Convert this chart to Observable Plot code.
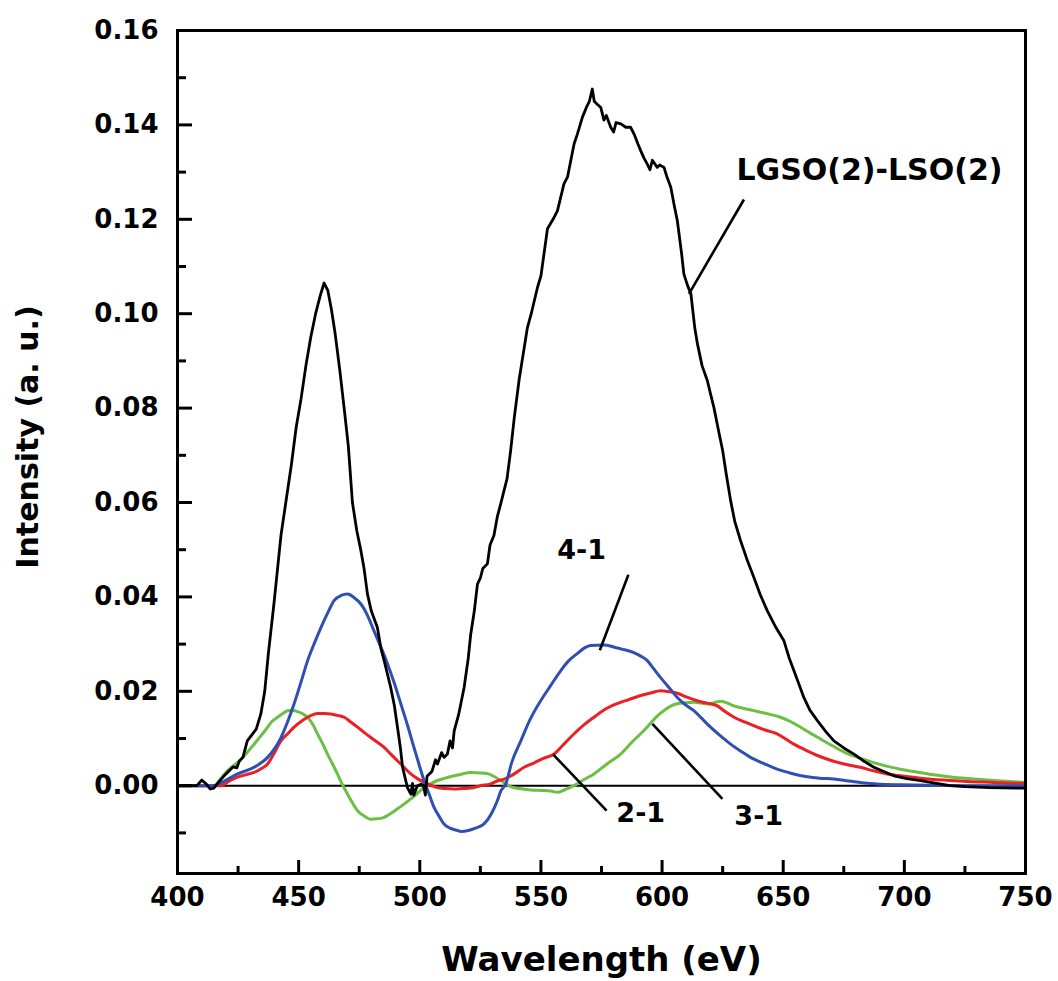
<!DOCTYPE html>
<html>
<head>
<meta charset="utf-8">
<script src="https://cdn.jsdelivr.net/npm/d3@7"></script>
<script src="https://cdn.jsdelivr.net/npm/@observablehq/plot@0.6"></script>
<style>
  html, body { margin: 0; padding: 0; background: #fff; }
  #chart svg { display: block; font-family: "DejaVu Sans", sans-serif; }
</style>
</head>
<body>
<div id="chart"></div>
<script>
// ---- Data (wavelength, intensity) ----
const black = [[400,0],[408,0],[410,0.0012],[412,0.0003],[413.5,-0.0007],[415,-0.0005],[417,0.0008],[420,0.0025],[423,0.004],[424.5,0.0038],[425.5,0.0052],[427,0.006],[428.8,0.0095],[431,0.011],[432.5,0.012],[434.4,0.0152],[436,0.02],[437.5,0.028],[439.9,0.039],[442.7,0.053],[444.7,0.06],[447,0.068],[449,0.076],[451,0.082],[453,0.089],[455,0.095],[457,0.1],[459,0.104],[460.5,0.1065],[462,0.105],[463.5,0.101],[465,0.096],[467,0.088],[469,0.079],[470.5,0.072],[472.2,0.06],[474,0.054],[475.7,0.0498],[477,0.046],[478.4,0.0406],[480,0.037],[482.5,0.0335],[484,0.029],[485.3,0.0265],[488,0.0208],[489.5,0.017],[490.8,0.0124],[492,0.008],[492.9,0.0039],[494.9,-0.0004],[496.3,-0.0018],[497,0.0005],[497.5,-0.002],[499,0],[500.5,0.0003],[501.5,0.0001],[502.3,-0.002],[503,0.002],[505,0.003],[506.5,0.0055],[507.3,0.0046],[509,0.007],[510,0.006],[511.4,0.0067],[512.5,0.0095],[513.5,0.008],[514.2,0.0116],[516,0.015],[518.3,0.0208],[520,0.027],[521,0.032],[522.5,0.037],[523.8,0.0427],[525,0.044],[526,0.046],[527.9,0.047],[529,0.051],[530.6,0.053],[532,0.057],[533.4,0.0597],[535,0.063],[536,0.065],[537.5,0.071],[539,0.078],[541,0.086],[544.4,0.097],[546,0.1],[548.6,0.1056],[550,0.108],[552.7,0.118],[555,0.12],[556.8,0.1218],[559.5,0.1275],[561,0.129],[563.7,0.136],[565,0.138],[567.1,0.1416],[569,0.144],[570,0.145],[571.2,0.1476],[572,0.145],[573,0.1445],[574.7,0.1437],[576,0.141],[577,0.142],[578.8,0.1395],[580,0.1385],[581,0.1405],[583,0.1402],[585,0.1395],[587,0.1395],[588.5,0.138],[590,0.136],[591.2,0.1345],[592.5,0.133],[593.9,0.1317],[595,0.1305],[596,0.1325],[598,0.131],[599,0.1315],[600.8,0.131],[602,0.129],[603.6,0.1268],[605,0.123],[606.3,0.1197],[608,0.113],[609,0.1084],[610.5,0.106],[611.9,0.1042],[613.5,0.097],[614.6,0.0936],[616.5,0.089],[618.7,0.0858],[620,0.083],[621.4,0.0801],[623,0.076],[625,0.071],[626.5,0.066],[628.3,0.0604],[630,0.056],[632.4,0.0519],[635,0.048],[637.9,0.0441],[640.5,0.0405],[643.4,0.0371],[647,0.0335],[650.3,0.0307],[652.5,0.027],[654.4,0.0244],[656.5,0.0215],[658.5,0.0187],[661,0.016],[664.1,0.0138],[667.5,0.0115],[670.9,0.0095],[675,0.008],[679.2,0.0067],[683,0.0053],[687.4,0.0039],[691.5,0.003],[695.7,0.0021],[701,0.0015],[706.7,0.0011],[712,0.0006],[719,0],[725,-0.0002],[735,-0.0004],[746.6,-0.0005],[750,-0.0005]];

const blue = [[400,0],[412,0],[415,0],[419.3,0.001],[424.8,0.0025],[431.6,0.0039],[437.2,0.006],[440,0.0078],[442.7,0.0102],[445.5,0.0136],[448.1,0.0173],[451,0.022],[453.7,0.0265],[456.5,0.0302],[459.2,0.0335],[462,0.0366],[464.6,0.0392],[467.5,0.0403],[470.2,0.0406],[473,0.0398],[475.7,0.0385],[478.5,0.036],[481.1,0.0328],[484,0.0293],[486.7,0.0258],[489.5,0.0217],[492.2,0.0173],[495,0.0127],[497.6,0.0081],[499.7,0.0045],[501.8,0.001],[504,-0.002],[505.9,-0.0046],[508,-0.0065],[510,-0.0081],[512.5,-0.009],[515.6,-0.0095],[517,-0.0097],[520,-0.0095],[523,-0.009],[526.5,-0.0081],[529.5,-0.006],[532,-0.0032],[533.4,-0.0012],[535.5,0.0004],[538,0.005],[541.7,0.0095],[545.5,0.014],[549.9,0.018],[554,0.0212],[558.2,0.0244],[561.5,0.0265],[565,0.028],[568,0.0292],[570.6,0.0297],[576,0.0298],[580,0.0294],[583,0.029],[588.4,0.0282],[591,0.0275],[593.9,0.0265],[596.5,0.0248],[599.4,0.0229],[603,0.0207],[606.3,0.0187],[609.5,0.0172],[613.1,0.0159],[616.5,0.0142],[620,0.0124],[624,0.0106],[628.3,0.0088],[632.5,0.0073],[636.5,0.006],[642,0.0047],[647.5,0.0035],[653.5,0.0026],[659.9,0.0019],[665,0.0016],[670.9,0.0014],[677,0.001],[684.7,0.0005],[690,0.0003],[698.4,0.0002],[710,0.0001],[730,0],[750,0]];

const red = [[400,0],[415,0],[417.9,0],[421,0.0009],[424.8,0.0018],[428,0.0023],[431.6,0.0028],[434.5,0.0036],[437.2,0.0046],[440,0.007],[442.7,0.0095],[445.5,0.011],[448.1,0.0124],[451,0.0136],[453.7,0.0145],[457.8,0.0153],[460.5,0.0153],[463.3,0.0152],[466,0.0149],[468.8,0.0145],[471.5,0.0135],[474.3,0.0124],[477,0.0113],[479.8,0.0102],[482.5,0.0092],[485.3,0.0081],[488,0.0067],[490.8,0.0053],[493.5,0.0039],[496.3,0.0025],[499,0.0015],[501.8,0.0007],[504.5,0.0001],[507.3,-0.0004],[510.5,-0.0006],[514.2,-0.0007],[517.5,-0.0006],[521,-0.0005],[525,0],[529.3,0.0004],[532,0.001],[534.8,0.0014],[539,0.0025],[543,0.0039],[547,0.0048],[551,0.0058],[555.4,0.0067],[559.5,0.0088],[563.7,0.011],[567.5,0.0128],[571.9,0.0145],[576.5,0.0162],[581.5,0.0174],[586,0.0182],[591.2,0.0191],[595,0.0196],[599.4,0.0201],[603,0.0199],[606.3,0.0196],[610,0.0188],[614.5,0.018],[618.5,0.0175],[622.8,0.0169],[626,0.0157],[629.7,0.0145],[634,0.0135],[637.9,0.0127],[642.5,0.0118],[647.5,0.011],[651,0.0099],[654.4,0.0088],[659,0.0076],[664.1,0.0064],[669.5,0.0054],[675.1,0.0046],[681.9,0.0039],[687,0.0032],[692.9,0.0025],[700,0.002],[706.7,0.0016],[716,0.0012],[726,0.0009],[737,0.0007],[746.6,0.0005],[750,0.0005]];

const green = [[400,0],[413,0],[415.1,0],[418,0.0016],[420.7,0.0032],[423.5,0.0044],[426.2,0.0056],[429,0.0072],[431.6,0.0088],[434.5,0.0106],[437.2,0.0124],[439,0.0136],[441.3,0.0145],[443.5,0.0153],[445.4,0.0159],[447.5,0.016],[449.5,0.0157],[451.5,0.0153],[453.7,0.0145],[455.8,0.013],[457.8,0.011],[460,0.0088],[461.9,0.0067],[464,0.0046],[466,0.0025],[468,0.0003],[470.2,-0.0018],[472.3,-0.0037],[474.3,-0.0053],[477,-0.0064],[479.8,-0.0071],[482.5,-0.007],[485.3,-0.0067],[488,-0.0059],[490.8,-0.0049],[493.5,-0.0039],[496.3,-0.0028],[499,-0.0016],[501.8,-0.0004],[504.5,0.0004],[507.3,0.0011],[510.5,0.0016],[514.2,0.0021],[517.5,0.0025],[521,0.0028],[524.5,0.0027],[527.9,0.0026],[530.5,0.002],[533.4,0.0011],[535.5,0.0004],[537.5,-0.0002],[541,-0.0006],[545.8,-0.0009],[550,-0.001],[554,-0.0011],[556.8,-0.0014],[560,-0.0008],[563.6,0],[567.5,0.0012],[571.9,0.0025],[577,0.0045],[582.9,0.0067],[587.5,0.0092],[592.5,0.0117],[595.5,0.0134],[598.1,0.0148],[601.5,0.0162],[605,0.0172],[609,0.0176],[613.2,0.0177],[618.7,0.0173],[621.5,0.0176],[624.2,0.0179],[627,0.0175],[629.7,0.0169],[633.5,0.0164],[637.9,0.0159],[643,0.0153],[648.9,0.0145],[653,0.0136],[657.2,0.0124],[661,0.0112],[665.4,0.0099],[670.5,0.0084],[676.4,0.0068],[682,0.0058],[687.4,0.0049],[693,0.0041],[698.4,0.0035],[705,0.0029],[712.2,0.0023],[720,0.0018],[728.7,0.0014],[737,0.0011],[746.6,0.0008],[750,0.0007]];

// ---- Annotations ----
const labelText = ["LGSO(2)-LSO(2)", "4-1", "2-1", "3-1"];
const labelX    = [685.6, 566.8, 591.2, 639.9];
const labelY    = [0.1303, 0.0498, -0.0059, -0.0064];
const labelSize = [30, 27, 27, 27];
const leaderX1  = [633.8, 586.1, 555.1, 596.0];
const leaderY1  = [0.1242, 0.0447, 0.0066, 0.0131];
const leaderX2  = [611.1, 574.3, 577.1, 624.9];
const leaderY2  = [0.1042, 0.0287, -0.0053, -0.0028];

// ---- Ticks ----
const xMajor = [400, 450, 500, 550, 600, 650, 700, 750];
const xMinor = [425, 475, 525, 575, 625, 675, 725];
const yMajor = [0, 0.02, 0.04, 0.06, 0.08, 0.10, 0.12, 0.14, 0.16];
const yMinor = [-0.01, 0.01, 0.03, 0.05, 0.07, 0.09, 0.11, 0.13, 0.15];

const toRows = a => a.map(([x, y]) => ({x, y}));
const labels = labelText.map((t, i) => ({t, x: labelX[i], y: labelY[i], s: labelSize[i]}));
const leaders = labelText.map((t, i) => ({x1: leaderX1[i], y1: leaderY1[i], x2: leaderX2[i], y2: leaderY2[i]}));

const W = 1058, H = 981, ML = 177, MR = 33, MT = 30, MB = 108;
const frameW = W - ML - MR, frameH = H - MT - MB;
const font = {fontFamily: "DejaVu Sans", fontWeight: "bold"};
const noText = () => "";

const chart = Plot.plot({
  width: W,
  height: H,
  marginLeft: ML,
  marginRight: MR,
  marginTop: MT,
  marginBottom: MB,
  style: {fontFamily: "DejaVu Sans", color: "#000", background: "#fff"},
  x: {domain: [400, 750]},
  y: {domain: [-0.0186, 0.16]},
  marks: [
    Plot.ruleY([0], {stroke: "#000", strokeWidth: 2}),
    Plot.line(toRows(green), {x: "x", y: "y", stroke: "#6cbf45", strokeWidth: 3, curve: "monotone-x"}),
    Plot.line(toRows(red), {x: "x", y: "y", stroke: "#ec1f24", strokeWidth: 3, curve: "monotone-x"}),
    Plot.line(toRows(blue), {x: "x", y: "y", stroke: "#2f4fb3", strokeWidth: 3, curve: "monotone-x"}),
    Plot.line(toRows(black), {x: "x", y: "y", stroke: "#000", strokeWidth: 2.8, curve: "linear"}),
    Plot.link(leaders, {x1: "x1", y1: "y1", x2: "x2", y2: "y2", stroke: "#000", strokeWidth: 2.6}),
    Plot.text(labels, {x: "x", y: "y", text: "t", fontSize: d => d.s, ...font, fill: "#000"}),
    // tick labels
    Plot.axisX(xMajor, {anchor: "bottom", tickSize: 0, tickPadding: 14, fontSize: 26, ...font, label: null, tickFormat: d3.format("d")}),
    Plot.axisY(yMajor, {anchor: "left", tickSize: 0, tickPadding: 19, fontSize: 26, ...font, label: null, tickFormat: d3.format(".2f")}),
    // inward ticks (drawn as opposite-side axes shifted onto the frame)
    Plot.axisX(xMajor, {anchor: "top", tickSize: 14, dy: frameH, strokeWidth: 3, tickFormat: noText, label: null}),
    Plot.axisX(xMinor, {anchor: "top", tickSize: 8, dy: frameH, strokeWidth: 3, tickFormat: noText, label: null}),
    Plot.axisY(yMajor, {anchor: "right", tickSize: 14, dx: -frameW, strokeWidth: 3, tickFormat: noText, label: null}),
    Plot.axisY(yMinor, {anchor: "right", tickSize: 8, dx: -frameW, strokeWidth: 3, tickFormat: noText, label: null}),
    Plot.frame({stroke: "#000", strokeWidth: 3}),
    Plot.text(["Wavelength (eV)"], {frameAnchor: "bottom", textAnchor: "middle", lineAnchor: "bottom", dy: 97, fontSize: 34, ...font, fill: "#000"}),
    Plot.text(["Intensity (a. u.)"], {frameAnchor: "left", textAnchor: "middle", lineAnchor: "middle", rotate: -90, dx: -149, dy: -15, fontSize: 30, ...font, fill: "#000"})
  ]
});
document.getElementById("chart").appendChild(chart);
</script>
</body>
</html>
